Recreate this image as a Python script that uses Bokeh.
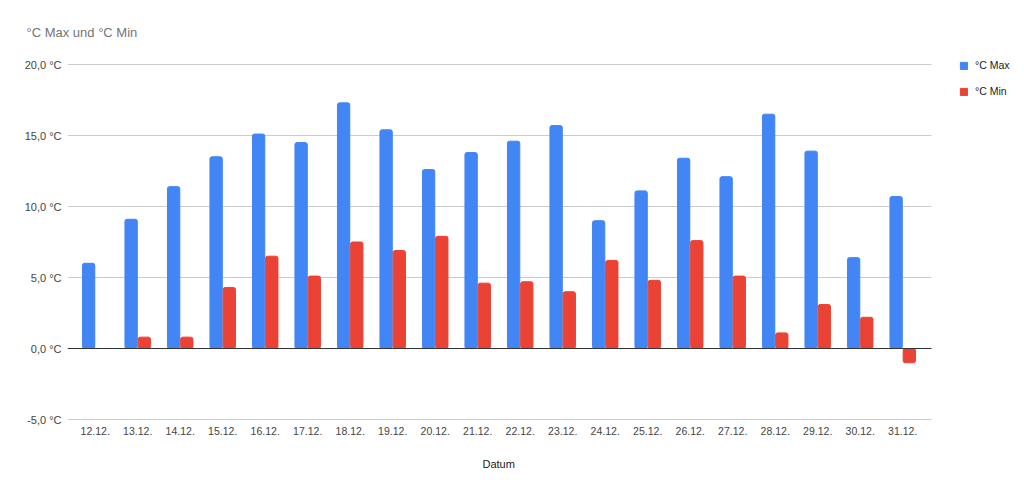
from bokeh.plotting import figure
from bokeh.models import (ColumnDataSource, Range1d, FixedTicker, CustomJSTickFormatter,
                          Legend, LegendItem, Title)
from bokeh.embed import file_html
from bokeh.resources import INLINE

dates = ["12.12.", "13.12.", "14.12.", "15.12.", "16.12.", "17.12.", "18.12.", "19.12.",
         "20.12.", "21.12.", "22.12.", "23.12.", "24.12.", "25.12.", "26.12.", "27.12.",
         "28.12.", "29.12.", "30.12.", "31.12."]
t_max = [6.0, 9.1, 11.4, 13.5, 15.1, 14.5, 17.3, 15.4, 12.6, 13.8,
         14.6, 15.7, 9.0, 11.1, 13.4, 12.1, 16.5, 13.9, 6.4, 10.7]
t_min = [float("nan"), 0.8, 0.8, 4.3, 6.5, 5.1, 7.5, 6.9, 7.9, 4.6,
         4.7, 4.0, 6.2, 4.8, 7.6, 5.1, 1.1, 3.1, 2.2, -1.0]
y_ticks = [-5, 0, 5, 10, 15, 20]

xs = list(range(len(dates)))
OFF = 0.155
source = ColumnDataSource(data=dict(
    xmax=[x - OFF for x in xs], xmin=[x + OFF for x in xs], tmax=t_max, tmin=t_min))

FONT = "Liberation Sans"

# layout: the frame spans the full width right of the y axis (room for the legend);
# the visible plot area (grid lines) ends at GRID_PX
W, H = 1016, 491
LEFT, TOP, BOTTOM = 67, 54, 71
PX_PER_CAT = 42.5
PX_PER_DEG = 14.2
FRAME_PX = W - LEFT
FRAME_PY = H - TOP - BOTTOM
GRID_PX = 864
x_start = -0.652
x_end = x_start + FRAME_PX / PX_PER_CAT
grid_end = x_start + GRID_PX / PX_PER_CAT
y_start = -5.07
y_end = y_start + FRAME_PY / PX_PER_DEG

p = figure(width=W, height=H, output_backend="svg", toolbar_location=None,
           x_range=Range1d(x_start, x_end), y_range=Range1d(y_start, y_end),
           min_border_left=LEFT, min_border_right=0, min_border_top=TOP, min_border_bottom=BOTTOM)

p.title.text = "°C Max und °C Min"
p.title.text_font = FONT
p.title.text_font_size = "13px"
p.title.text_font_style = "normal"
p.title.text_color = "#757575"
p.title.offset = -41
p.title.standoff = 30

grid_y = [t for t in y_ticks if t != 0]
p.segment(x0=[x_start] * len(grid_y), x1=[grid_end] * len(grid_y), y0=grid_y, y1=grid_y,
          line_color="#cccccc", line_width=1)

r1 = p.vbar(x="xmax", top="tmax", bottom=0, width=0.29,
            source=source, color="#4285F4", border_radius=2)
r2 = p.vbar(x="xmin", top="tmin", bottom=0, width=0.29,
            source=source, color="#EA4335", border_radius=2)

p.segment(x0=[x_start], x1=[grid_end], y0=[0], y1=[0], line_color="#333333", line_width=1)

p.outline_line_color = None
p.xgrid.visible = False
p.ygrid.visible = False

p.yaxis.ticker = FixedTicker(ticks=y_ticks)
p.yaxis.formatter = CustomJSTickFormatter(code="return tick.toFixed(1).replace('.', ',') + ' °C';")
p.xaxis.ticker = FixedTicker(ticks=xs)
p.xaxis.major_label_overrides = {x: d for x, d in zip(xs, dates)}
for ax in (p.xaxis[0], p.yaxis[0]):
    ax.axis_line_color = None
    ax.major_tick_line_color = None
    ax.minor_tick_line_color = None
    ax.major_tick_out = 0
    ax.major_tick_in = 0
    ax.minor_tick_out = 0
    ax.minor_tick_in = 0
    ax.major_label_text_font = FONT
    ax.major_label_text_color = "#444444"
p.yaxis.major_label_text_font_size = "11px"
p.yaxis.major_label_standoff = 6
p.xaxis.major_label_text_font_size = "10.5px"
p.xaxis.major_label_standoff = 6

# x-axis title "Datum", centred under the visible plot area
x_title = Title(text="Datum", align="left", offset=415,
                text_font=FONT, text_font_size="11px", text_font_style="normal",
                text_color="#222222", standoff=36)
p.add_layout(x_title, "below")

legend = Legend(items=[LegendItem(label="°C Max", renderers=[r1]),
                       LegendItem(label="°C Min", renderers=[r2])],
                location=(892, 323), padding=0, margin=0, spacing=14,
                glyph_width=9, glyph_height=9, label_height=9, label_standoff=7,
                label_text_font=FONT, label_text_font_size="10.5px", label_text_color="#222222",
                border_line_color=None, background_fill_alpha=0)
p.add_layout(legend)

open("out.html", "w").write(file_html(p, INLINE))
